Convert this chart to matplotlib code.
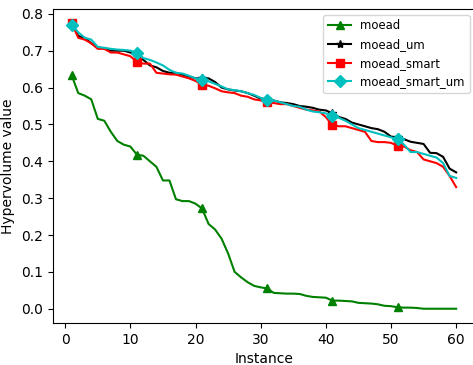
import numpy as np
import matplotlib
matplotlib.use('Agg')
import matplotlib.pyplot as plt

instances = np.arange(1, 61)

moead = [0.633, 0.585, 0.578, 0.568, 0.515, 0.510, 0.480, 0.455, 0.445, 0.440,
         0.418, 0.415, 0.400, 0.385, 0.348, 0.348, 0.297, 0.292, 0.292, 0.285,
         0.272, 0.230, 0.215, 0.190, 0.150, 0.100, 0.085, 0.072, 0.062, 0.058,
         0.055, 0.043, 0.042, 0.041, 0.041, 0.040, 0.035, 0.032, 0.031, 0.030,
         0.022, 0.022, 0.021, 0.020, 0.016, 0.015, 0.014, 0.012, 0.008, 0.007,
         0.004, 0.003, 0.003, 0.002, 0.000, 0.000, 0.000, 0.000, 0.000, 0.000]

moead_um = [0.775, 0.740, 0.735, 0.720, 0.710, 0.705, 0.700, 0.700, 0.700, 0.695,
            0.685, 0.675, 0.660, 0.655, 0.645, 0.640, 0.640, 0.635, 0.630, 0.625,
            0.625, 0.625, 0.615, 0.600, 0.595, 0.592, 0.590, 0.585, 0.578, 0.570,
            0.568, 0.565, 0.560, 0.558, 0.555, 0.550, 0.548, 0.545, 0.540, 0.538,
            0.530, 0.520, 0.515, 0.505, 0.500, 0.495, 0.490, 0.487, 0.480, 0.467,
            0.465, 0.460, 0.453, 0.450, 0.447, 0.423, 0.422, 0.412, 0.380, 0.370]

moead_smart = [0.775, 0.735, 0.730, 0.720, 0.705, 0.705, 0.695, 0.695, 0.690, 0.685,
               0.670, 0.665, 0.665, 0.640, 0.638, 0.636, 0.635, 0.630, 0.625, 0.618,
               0.607, 0.605, 0.598, 0.590, 0.587, 0.585, 0.578, 0.575, 0.568, 0.565,
               0.560, 0.558, 0.555, 0.555, 0.550, 0.545, 0.540, 0.538, 0.535, 0.520,
               0.498, 0.495, 0.495, 0.490, 0.485, 0.480, 0.455, 0.452, 0.452, 0.450,
               0.442, 0.440, 0.430, 0.425, 0.405, 0.400, 0.395, 0.385, 0.360, 0.330]

moead_smart_um = [0.770, 0.750, 0.735, 0.730, 0.710, 0.708, 0.705, 0.703, 0.702, 0.700,
                  0.695, 0.680, 0.675, 0.668, 0.660, 0.648, 0.640, 0.638, 0.632, 0.625,
                  0.620, 0.617, 0.610, 0.603, 0.595, 0.593, 0.590, 0.585, 0.580, 0.572,
                  0.565, 0.565, 0.560, 0.555, 0.550, 0.548, 0.540, 0.535, 0.533, 0.530,
                  0.523, 0.518, 0.510, 0.500, 0.490, 0.485, 0.480, 0.475, 0.470, 0.465,
                  0.460, 0.445, 0.425, 0.425, 0.420, 0.415, 0.410, 0.395, 0.360, 0.355]

fig, ax = plt.subplots(figsize=(4.73, 3.65), dpi=100)
# the right spine sits just past the figure edge
fig.subplots_adjust(left=0.111, right=1.005, bottom=0.115, top=0.976)

ax.plot(instances, moead, color='green', marker='^', markevery=10, label='moead')
ax.plot(instances, moead_um, color='black', marker='*', markevery=10, label='moead_um')
ax.plot(instances, moead_smart, color='red', marker='s', markevery=10, label='moead_smart')
ax.plot(instances, moead_smart_um, color='c', marker='D', markevery=10, label='moead_smart_um')

ax.set_xlabel('Instance')
ax.set_ylabel('Hypervolume value')
ax.legend(loc='upper right', fontsize='small')

plt.savefig('out.png')
